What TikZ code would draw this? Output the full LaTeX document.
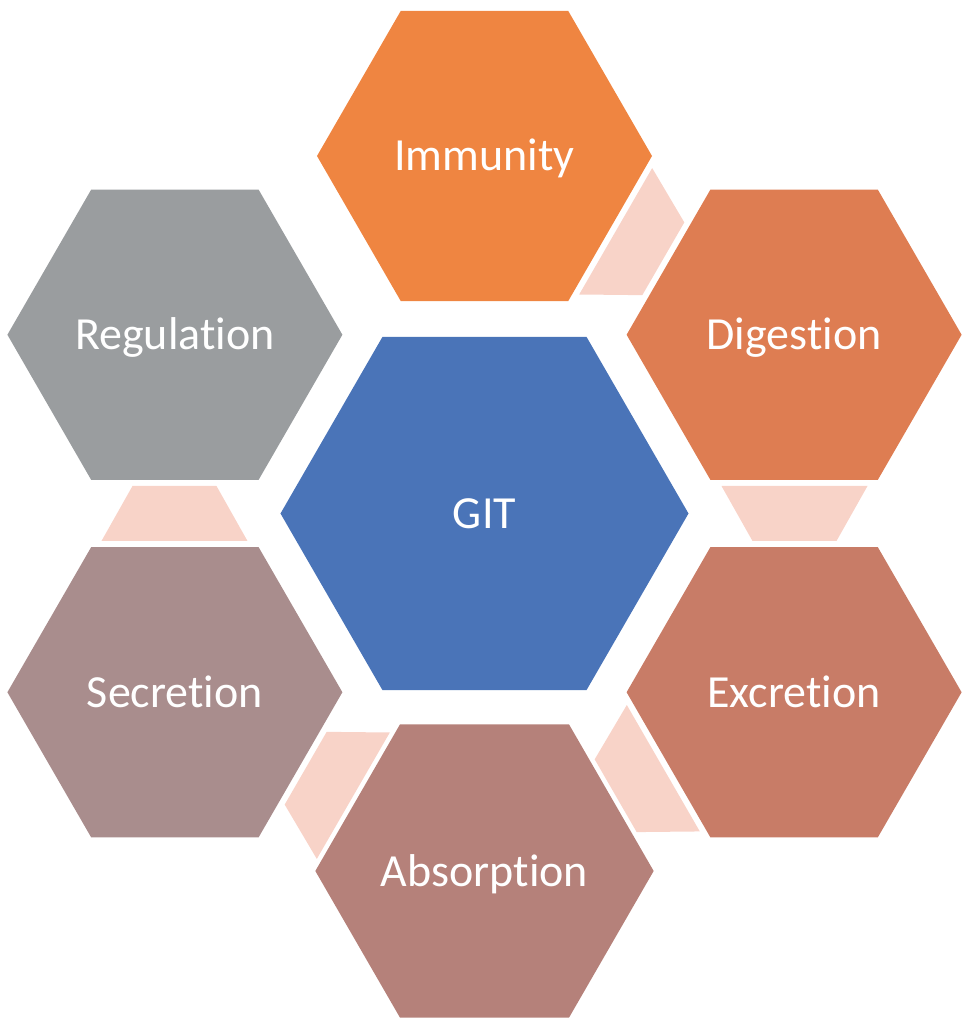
\documentclass[tikz,border=0pt]{standalone}
\usepackage{fontspec}
\setmainfont[Ligatures=NoCommon]{Carlito}
\usetikzlibrary{shapes.geometric}
\definecolor{gitblue}{RGB}{74,116,184}
\definecolor{immun}{RGB}{239,133,65}
\definecolor{digest}{RGB}{222,125,82}
\definecolor{excret}{RGB}{200,124,103}
\definecolor{absorb}{RGB}{181,129,122}
\definecolor{secret}{RGB}{169,141,141}
\definecolor{regul}{RGB}{154,157,159}
\definecolor{link}{RGB}{248,211,200}
\tikzset{
  hexa/.style={regular polygon, regular polygon sides=6, minimum size=335pt,
    inner sep=0pt, outer sep=0pt, text=white, text height=30pt, text depth=0pt,
    font=\fontsize{46}{55}\selectfont},
}
\begin{document}
\begin{tikzpicture}[x=1pt,y=1pt]
      \useasboundingbox (-484.5,-510.5) rectangle (482.5,513.5);
      \path
        (0,0) node[hexa, minimum size=408pt, fill=gitblue] (git){GIT}
        (90:357.5) node[hexa, fill=immun] (imm){Immunity}
        (30:357.5) node[hexa, fill=digest] (dig){Digestion}
        (-30:357.5) node[hexa, fill=excret] (exc){Excretion}
        (-90:357.5) node[hexa, fill=absorb] (abs){Absorption}
        (-150:357.5) node[hexa, fill=secret] (sec){Secretion}
        (150:357.5) node[hexa, fill=regul] (reg){Regulation};
      \begin{scope}[fill=link]
        \foreach \a in {60,0,-60,-120,180}
          \fill[rotate=\a] (237,27.5) -- (383,27.5) -- (352,-27.5) -- (268,-27.5) -- cycle;
      \end{scope}
    \end{tikzpicture}
\end{document}
